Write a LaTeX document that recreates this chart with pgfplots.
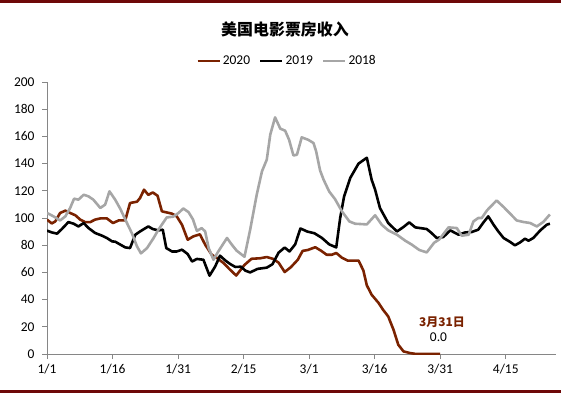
\documentclass[border=0pt]{standalone}
\usepackage{pgfplots}
\pgfplotsset{compat=1.18}
\usepackage{fontspec}
\setmainfont{Carlito}
\newfontfamily\cjk{Noto Sans CJK SC}
\definecolor{c2020}{RGB}{122,34,0}
\definecolor{c2018}{RGB}{166,166,166}
\definecolor{axgray}{RGB}{134,134,134}
\definecolor{border}{RGB}{110,8,8}

\pgfplotstableread{
d v
0 98.8
1.1 96
1.9 97.5
3 103.7
4.2 105.4
5.3 103.7
6.5 102
7.6 98.8
8.7 97
9.9 97
11 98.8
12.2 99.7
13.7 99.7
15.1 96.3
16.4 98.2
17.9 98.2
19 111
20.6 112
21.3 114.7
22.2 120.8
23.2 117
24.2 118.8
25.3 116.4
26.3 104.9
27.4 104.1
28.6 103.2
29.7 101.2
30.9 95
32.2 84
33.5 86.5
35 88
36.2 80.4
37.7 73
38.9 70.6
40.4 66.9
41.9 62
43.3 57.7
45.2 65.5
46.8 70
48.8 70.4
50.3 71.3
51.7 70
53 67.2
54.4 60.3
55.8 63.8
57.4 69.3
58.5 75.8
59.7 76.5
61.4 78.5
62.7 76
64 73
65.2 73
66.2 74.3
67.5 70.8
68.8 68.7
71.3 68.7
72.4 61.5
73.2 50.5
74.3 43.6
75.9 37.5
76.9 32.6
78.1 27.6
79.3 17.9
80.4 6.8
81.6 1.9
83.1 0.7
84.5 0
90 0
}\tA

\pgfplotstableread{
d v
0 90.7
1.1 89.4
2.3 88.5
3.4 91.9
4.9 97
6.1 95.8
7.2 93.8
8.4 96.3
9.5 92.6
11 89
12.6 87
13.7 85.3
14.9 82.8
15.6 82.6
16.8 80.4
17.9 78.4
19 77.9
20.2 87.7
21.3 90.1
22.2 91.9
23.2 93.8
24.2 91.9
25.5 90.9
26.5 91.4
27.3 77.9
28.6 75.4
29.7 75.4
30.9 76.7
32.2 73.5
33.2 68
34.3 69.9
35.8 69.3
37.2 57.6
38.5 64.4
39.6 72.3
40.8 68.8
41.9 66.2
43.1 64
44.4 64.2
45.4 61.3
46.5 60
48.2 62.6
50.3 63.5
51.6 66
53 74.5
54.4 78.3
55.5 75.4
56.8 80.6
58 92.3
59.6 90
61.2 88.8
62.9 85.4
64.6 80.6
66.2 78.4
67.1 100
68 115.9
69.4 129.4
71.3 140
73.2 144.3
74.3 128.2
75.1 120.8
76.2 107.4
78.1 96.3
80.1 90.1
81.6 93.4
82.9 96.8
84.3 93.1
85.4 92.6
86.9 91.9
88 89
89.2 85.3
90.7 86
92.3 90.9
94.2 87.7
95.7 89.4
97.2 89.7
98.7 91.4
99.9 96.8
101 101.2
102.2 95.1
103.3 90.1
104.5 85.3
106 82.4
107.1 79.9
108.3 82.1
109.4 84.8
110.2 83.3
111.3 85.3
112.9 90.9
114.4 95.1
115.1 95.8
}\tB

\pgfplotstableread{
d v
0 103.7
1.5 101.2
3 98.2
4.2 101.2
5.3 107.4
6.2 114.2
7.2 113.5
8.4 117.1
9.5 115.9
10.6 113.5
12.2 107.4
13.3 109.8
14.3 119.6
15.6 113.5
16.8 106.6
18.3 96.3
19.4 89
20.6 79.1
21.5 74
22.9 77.9
24.4 85.3
25.5 91.4
27.4 100.4
28.9 101
30.1 103.7
31.2 107
32.4 104.3
33.4 99
34.3 90.5
35.4 92.6
36.2 90.1
37 77.9
38.1 69.3
39.2 75.4
41.2 85.3
42.3 80.4
43.4 76
45.2 71.5
46.5 91.4
48 117.1
49.2 134.3
50.3 142.9
51.1 161.3
52.2 174
53.4 165.7
54.5 164.2
55.4 157.6
56.4 146
57.2 146.5
58.3 159.3
59.8 157.5
61 155.1
61.6 149
62.5 135
63.3 128.2
64.6 119.4
65.9 114
67.5 104.9
69.2 97.5
70.5 95.8
73.2 95.3
75.1 102
76.6 95.1
78.1 90.9
80.1 87.7
82 83.3
83.5 80.4
85.2 76.5
86.9 74.7
88.6 81.8
89.8 84.3
91.9 93.1
93.8 92.6
94.9 87
96.5 87.7
97.6 97.5
98.7 100
99.5 100
100.7 105.6
102.9 112.9
104.5 108.1
106 103.2
107.5 98.2
109 97.1
110.6 96.3
112.1 93.8
113.6 97.1
115.1 102.6
}\tC

\begin{document}
\begin{tikzpicture}[x=1bp,y=1bp]
\path[use as bounding box] (0,0) rectangle (561,395);
\fill[border] (0,391.5) rectangle (561,394.5);
\fill[border] (0,2) rectangle (561,5.5);
\begin{axis}[
  at={(47bp,41bp)}, anchor=south west,
  scale only axis, width=509bp, height=272bp,
  xmin=0, xmax=116.5, ymin=0, ymax=200,
  axis lines*=left,
  axis line style={axgray, line width=0.8pt, -},
  xtick={0,15,30,45,60,75,90,105},
  xticklabels={1/1,1/16,1/31,2/15,3/1,3/16,3/31,4/15},
  ytick={0,20,...,200},
  tick align=outside, major tick length=5bp,
  tick style={axgray, line width=0.8pt},
  tick label style={font=\fontsize{13.5}{15}\selectfont, text=black},
  yticklabel style={xshift=-4bp},
  xticklabel style={yshift=-2bp},
  /pgf/number format/assume math mode=true,
  legend style={at={(0.4715,1.077)}, anchor=center, draw=none, fill=none,
    font=\fontsize{13.5}{15}\selectfont, legend columns=3,
    /tikz/every even column/.append style={column sep=7bp},
    inner xsep=1bp},
  legend image code/.code={\draw[#1] (0bp,0bp) -- (22bp,0bp);},
  every axis plot/.append style={line width=2.6pt, line join=round},
]
\addplot[c2020] table[x=d,y=v] {\tA};
\addlegendentry{2020}
\addplot[black] table[x=d,y=v] {\tB};
\addlegendentry{2019}
\addplot[c2018] table[x=d,y=v] {\tC};
\addlegendentry{2018}
\node[font=\cjk\bfseries\fontsize{12}{14}\selectfont, text=c2020] at (axis cs:90.4,23.5) {3月31日};
\node[font=\fontsize{13.5}{15}\selectfont] at (axis cs:89.6,12) {0.0};
\end{axis}
\node[font=\cjk\bfseries\fontsize{16}{18}\selectfont] at (285,366) {美国电影票房收入};
\end{tikzpicture}
\end{document}
